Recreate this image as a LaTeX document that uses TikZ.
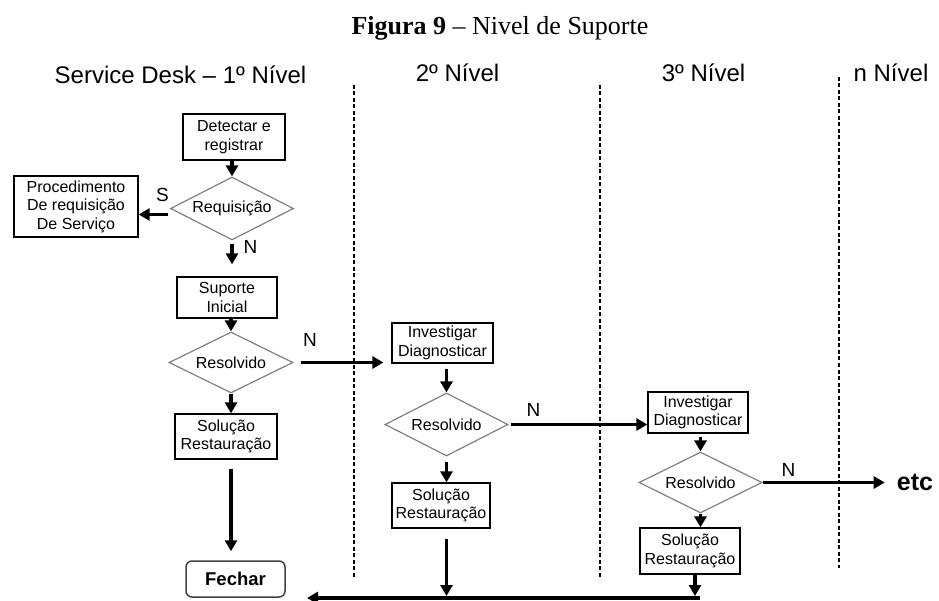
\documentclass[tikz,border=0pt]{standalone}
\usepackage{fontspec}
\setmainfont{Liberation Serif}
\setsansfont{Liberation Sans}
\usetikzlibrary{arrows.meta,shapes.geometric}

\begin{document}
\begin{tikzpicture}[x=1pt,y=-1pt,
  box/.style={draw=black, line width=1.3pt, inner sep=0pt, align=center,
    font=\sffamily\fontsize{16}{18.5}\selectfont},
  dec/.style={diamond, aspect=2, draw=gray, line width=1.2pt, inner sep=0pt,
    font=\sffamily\fontsize{16}{18}\selectfont},
  arr/.style={line width=3.5pt, -{Triangle[length=11pt,width=12pt]}},
  lbl/.style={font=\sffamily\fontsize{19}{22}\selectfont, inner sep=0pt},
  hdr/.style={font=\sffamily\fontsize{24}{28}\selectfont, inner sep=0pt, anchor=base},
  lane/.style={line width=1.3pt, dash pattern=on 4pt off 2.5pt}]

\useasboundingbox (0,0) rectangle (939,601);

% title and lane headers
\node[anchor=base, inner sep=0pt, font=\fontsize{26}{30}\selectfont] (title) at (500,35)
  {\textbf{Figura 9} – Nivel de Suporte};
\node[hdr] (h1) at (180.5,84) {Service Desk – 1º Nível};
\node[hdr] (h2) at (457.5,82) {2º Nível};
\node[hdr] (h3) at (703.5,82) {3º Nível};
\node[hdr] (h4) at (891,82) {n Nível};

% lane separators
\draw[lane] (354,85) -- (354,577);
\draw[lane] (600,85) -- (600,577);
\draw[lane] (839,77) -- (839,568);

% first level
\node[box, minimum width=102pt, minimum height=46pt] (det) at (234,137) {Detectar e\\registrar};
\node[dec, minimum width=123pt, minimum height=63pt] (req) at (232,208.5) {Requisição};
\node[box, minimum width=124pt, minimum height=61pt] (proc) at (76,206.5) {Procedimento\\De requisição\\De Serviço};
\node[box, minimum width=100pt, minimum height=41pt] (sup) at (227,297.5) {Suporte\\Inicial};
\node[dec, minimum width=124pt, minimum height=61pt] (res1) at (231,362.5) {Resolvido};
\node[box, minimum width=102pt, minimum height=45pt] (sol1) at (226,436.5) {Solução\\Restauração};
\node[draw=black!75, line width=1.5pt, rounded corners=6pt, inner sep=0pt,
  minimum width=99pt, minimum height=36pt, font=\sffamily\bfseries\fontsize{18.5}{20}\selectfont]
  (fech) at (235.5,579) {Fechar};

% second level
\node[box, minimum width=101pt, minimum height=40pt] (inv2) at (442.5,343) {Investigar\\Diagnosticar};
\node[dec, minimum width=123pt, minimum height=63pt] (res2) at (446.5,424.5) {Resolvido};
\node[box, minimum width=98pt, minimum height=45pt] (sol2) at (441,505.5) {Solução\\Restauração};

% third level
\node[box, minimum width=100pt, minimum height=41pt] (inv3) at (698,412.5) {Investigar\\Diagnosticar};
\node[dec, minimum width=123pt, minimum height=61pt] (res3) at (700.5,482.5) {Resolvido};
\node[box, minimum width=100pt, minimum height=46pt] (sol3) at (690,551) {Solução\\Restauração};

\node[inner sep=0pt, font=\sffamily\bfseries\fontsize{25}{28}\selectfont] (etc) at (915,482) {etc};

% return line along the bottom
\coordinate (endR) at (700,598);
\coordinate (endL) at (307,598);
\draw[arr] (endR) -- (endL);

% connectors
\draw[arr] (req.north |- det.south) -- (req.north);
\draw[arr, shorten <=2pt] ([shift={(0pt,-6pt)}]req.west) -- ([shift={(0pt,-6pt)}]req.west -| proc.east);
\draw[arr, shorten <=3pt, shorten >=12pt] (req.south) -- (req.south |- sup.north);
\draw[arr] (res1.north |- sup.south) -- (res1.north);
\draw[arr] (res1.south) -- (res1.south |- sol1.north);
\draw[arr, shorten <=9pt, shorten >=9pt] (res1.south |- sol1.south) -- (res1.south |- fech.north);
\draw[arr, shorten <=7pt, shorten >=8pt] (res1.east) -- (res1.east -| inv2.west);

\draw[arr, shorten <=5pt] (res2.north |- inv2.south) -- (res2.north);
\draw[arr, shorten <=5pt] (res2.south) -- (res2.south |- sol2.north);
\draw[arr, shorten <=2pt] (res2.east) -- (res2.east -| inv3.west);
\draw[arr, shorten <=10pt, shorten >=2pt] (res2.south |- sol2.south) -- (res2.south |- endL);

\draw[arr, shorten <=3pt] (res3.north |- inv3.south) -- (res3.north);
\draw[arr] (res3.south) -- (res3.south |- sol3.north);
\draw[arr, shorten >=2pt] ([xshift=5pt]sol3.south) -- ([xshift=5pt]sol3.south |- endL);
\draw[arr, shorten >=12pt] (res3.east) -- (res3.east -| etc.west);

% branch labels
\node[lbl] (lS) at (162.5,195) {S};
\node[lbl] (lN0) at (250.5,247) {N};
\node[lbl] (lN1) at (310,340) {N};
\node[lbl] (lN2) at (533.5,410) {N};
\node[lbl] (lN3) at (788.5,469.5) {N};

\end{tikzpicture}
\end{document}
